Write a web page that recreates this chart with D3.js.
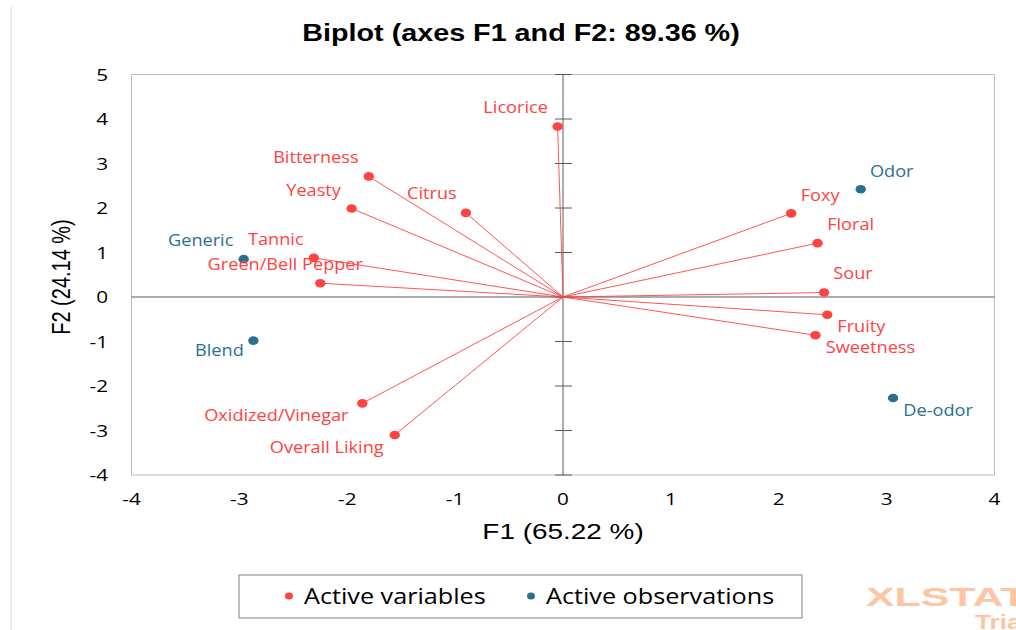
<!DOCTYPE html>
<html>
<head>
<meta charset="utf-8">
<script src="https://cdn.jsdelivr.net/npm/d3@7"></script>
<style>
  body { margin: 0; background: #fff; }
  text { font-family: "Open Sans", sans-serif; }
</style>
</head>
<body>
<svg id="chart"></svg>
<script>
// active variables (red) - coordinates on F1 / F2
const varNames = ['Licorice', 'Bitterness', 'Yeasty', 'Citrus', 'Tannic', 'Green/Bell Pepper',
    'Foxy', 'Floral', 'Sour', 'Fruity', 'Sweetness', 'Oxidized/Vinegar', 'Overall Liking'];
const varF1 = [-0.05, -1.80, -1.96, -0.90, -2.31, -2.25, 2.115, 2.36, 2.42, 2.45, 2.34, -1.86, -1.56];
const varF2 = [3.83, 2.71, 1.99, 1.89, 0.88, 0.31, 1.88, 1.21, 0.10, -0.40, -0.86, -2.39, -3.10];

// active observations (blue)
const obsNames = ['Generic', 'Odor', 'Blend', 'De-odor'];
const obsF1 = [-2.96, 2.76, -2.87, 3.06];
const obsF2 = [0.85, 2.42, -0.98, -2.27];

const xTicks = [-4, -3, -2, -1, 0, 1, 2, 3, 4];
const yTicks = [-4, -3, -2, -1, 0, 1, 2, 3, 4, 5];

// label placement (pixels from the point, label centre)
const varLabelOffset = [[-42, -19], [-53, -19], [-38, -18], [-34, -19], [-38, -18], [-35, -19],
    [29, -18], [33, -19], [29, -19], [34, 12], [55, 12], [-86, 12], [-68, 12]];
const obsLabelOffset = [[-43, -19], [31, -18], [-34, 10], [45, 12]];

const RED = '#ff4242';
const BLUE = '#2b6f8e';

const svg = d3.select('#chart').attr('width', 1016).attr('height', 630);
svg.append('rect').attr('width', 1016).attr('height', 630).attr('fill', '#fff');

const x = d3.scaleLinear().domain([-4, 4]).range([131.5, 994.5]);
const y = d3.scaleLinear().domain([-4, 5]).range([475, 74.5]);

// text placed with a slight horizontal stretch, like the source image
function stretchText(parent, tx, ty, sx, str) {
    return parent.append('text')
        .attr('transform', 'translate(' + tx + ',' + ty + ') scale(' + sx + ',1)')
        .text(str);
}

// thin border line on the left
svg.append('line').attr('x1', 11).attr('x2', 11).attr('y1', 7).attr('y2', 630)
    .attr('stroke', '#d4d4d4');

// title
stretchText(svg, 521, 41, 1.25, 'Biplot (axes F1 and F2: 89.36 %)')
    .attr('text-anchor', 'middle')
    .style('font-family', '"Liberation Sans", Arial, sans-serif')
    .style('font-weight', 'bold')
    .style('font-size', '23px');

// frame
svg.append('rect')
    .attr('x', x(-4)).attr('y', y(5))
    .attr('width', x(4) - x(-4)).attr('height', y(-4) - y(5))
    .attr('fill', 'none').attr('stroke', '#bdbdbd');

// zero axes
svg.append('line')
    .attr('x1', x(-4)).attr('x2', x(4)).attr('y1', y(0)).attr('y2', y(0))
    .attr('stroke', '#5a5a5a');
svg.append('line')
    .attr('x1', x(0)).attr('x2', x(0)).attr('y1', y(5)).attr('y2', y(-4))
    .attr('stroke', '#5a5a5a');
svg.append('g').selectAll('line')
    .data(yTicks)
    .join('line')
    .attr('x1', x(0) - 8).attr('x2', x(0) + 9)
    .attr('y1', d => y(d)).attr('y2', d => y(d))
    .attr('stroke', '#5a5a5a');

// tick labels
yTicks.forEach(t => {
    stretchText(svg, 108, y(t) + 6, 1.22, t)
        .attr('text-anchor', 'end')
        .style('font-size', '17px')
        .attr('fill', '#000');
});
xTicks.forEach(t => {
    stretchText(svg, x(t), 505, 1.22, t)
        .attr('text-anchor', 'middle')
        .style('font-size', '17px')
        .attr('fill', '#000');
});

// axis titles
stretchText(svg, 563, 539, 1.27, 'F1 (65.22 %)')
    .attr('text-anchor', 'middle')
    .style('font-family', '"Liberation Sans", Arial, sans-serif')
    .style('font-size', '22px')
    .attr('fill', '#000');
svg.append('text')
    .attr('transform', 'translate(70,277) scale(1.25,1) rotate(-90)')
    .attr('text-anchor', 'middle')
    .style('font-family', '"Liberation Sans", Arial, sans-serif')
    .style('font-size', '20px')
    .attr('fill', '#000')
    .text('F2 (24.14 %)');

// vectors from the origin to each variable
const vars = varNames.map((n, i) => ({name: n, f1: varF1[i], f2: varF2[i], off: varLabelOffset[i]}));
const obs = obsNames.map((n, i) => ({name: n, f1: obsF1[i], f2: obsF2[i], off: obsLabelOffset[i]}));

svg.append('g').selectAll('line')
    .data(vars)
    .join('line')
    .attr('x1', x(0)).attr('y1', y(0))
    .attr('x2', d => x(d.f1)).attr('y2', d => y(d.f2))
    .attr('stroke', RED).attr('stroke-width', 0.9);

svg.append('g').selectAll('ellipse')
    .data(vars)
    .join('ellipse')
    .attr('cx', d => x(d.f1)).attr('cy', d => y(d.f2))
    .attr('rx', 5.2).attr('ry', 4.3)
    .attr('fill', RED);

svg.append('g').selectAll('ellipse')
    .data(obs)
    .join('ellipse')
    .attr('cx', d => x(d.f1)).attr('cy', d => y(d.f2))
    .attr('rx', 5.2).attr('ry', 4.3)
    .attr('fill', BLUE);

// point labels
vars.forEach(d => {
    stretchText(svg, x(d.f1) + d.off[0], y(d.f2) + d.off[1] + 5.6, 1.1, d.name)
        .attr('text-anchor', 'middle')
        .style('font-size', '16.5px')
        .attr('fill', RED);
});
obs.forEach(d => {
    stretchText(svg, x(d.f1) + d.off[0], y(d.f2) + d.off[1] + 5.6, 1.1, d.name)
        .attr('text-anchor', 'middle')
        .style('font-size', '16.5px')
        .attr('fill', BLUE);
});

// legend
const legend = svg.append('g');
legend.append('rect')
    .attr('x', 239).attr('y', 575).attr('width', 563).attr('height', 43)
    .attr('fill', '#fff').attr('stroke', '#808080');
const legendItems = [['Active variables', RED, 289], ['Active observations', BLUE, 531]];
legendItems.forEach(d => {
    legend.append('ellipse')
        .attr('cx', d[2]).attr('cy', 596).attr('rx', 4).attr('ry', 3.6)
        .attr('fill', d[1]);
    stretchText(legend, d[2] + 15, 604, 1.2, d[0])
        .style('font-size', '21px')
        .attr('fill', '#000');
});

// trial watermark
stretchText(svg, 866, 606, 1.65, 'XLSTAT')
    .style('font-family', '"Liberation Sans", Arial, sans-serif')
    .style('font-weight', 'bold')
    .style('font-size', '26px')
    .attr('fill', '#fcc6a6');
stretchText(svg, 975, 629, 1.25, 'Trial')
    .style('font-family', '"Liberation Sans", Arial, sans-serif')
    .style('font-weight', 'bold')
    .style('font-size', '21px')
    .attr('fill', '#fcc6a6');
</script>
</body>
</html>
